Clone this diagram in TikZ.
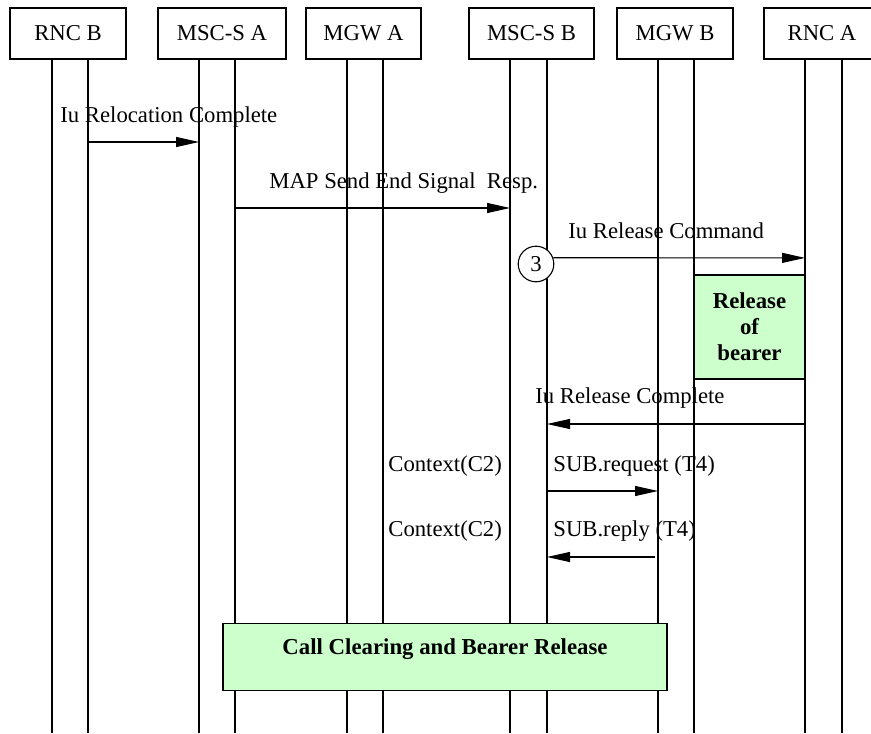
\documentclass[tikz,border=0pt]{standalone}
\usepackage{fontspec}
\setmainfont{Liberation Serif}
\usetikzlibrary{arrows.meta}
\definecolor{actgreen}{HTML}{CCFFCC}
\tikzset{
  entity/.style={draw, line width=0.6pt, minimum height=25.5pt, inner sep=0pt},
  life/.style={line width=0.55pt},
  msg/.style={line width=0.55pt, -{Triangle[length=11.5pt,width=5pt]}},
  lbl/.style={anchor=base west, inner sep=0pt},
  action/.style={draw, line width=0.6pt, fill=actgreen, inner sep=0pt, font=\fontsize{11.4}{13}\selectfont\bfseries},
}

\begin{document}
\begin{tikzpicture}[x=0.5pt, y=-0.5pt, font=\fontsize{11.35}{13}\selectfont]
\useasboundingbox (0,0) rectangle (871,733);
\clip (0,0) rectangle (871,733);
\node[entity, minimum width=58pt] (rncb) at (68,33.5) {RNC B};
\node[entity, minimum width=64pt] (msca) at (222,33.5) {MSC-S A};
\node[entity, minimum width=57.5pt] (mgwa) at (363.5,33.5) {MGW A};
\node[entity, minimum width=62.5pt] (mscb) at (531.5,33.5) {MSC-S B};
\node[entity, minimum width=58pt] (mgwb) at (675,33.5) {MGW B};
\node[entity, minimum width=58pt] (rnca) at (822,33.5) {RNC A};
\foreach \n/\a/\b in {rncb/52/88, msca/199/235, mgwa/347/383, mscb/510/547, mgwb/658/694, rnca/805/842} {
  \draw[life] (\a,0 |- \n.south) -- (\a,733);
  \draw[life] (\b,0 |- \n.south) -- (\b,733);
}
% relocation
\coordinate (relA) at (88,142);
\coordinate (relB) at (199,142);
\draw[msg] (relA) -- (relB);
\node[lbl] (relL) at (60,122) {Iu Relocation Complete};
\coordinate (mapA) at (235,208);
\coordinate (mapB) at (510,208);
\draw[msg] (mapA) -- (mapB);
\node[lbl] (mapL) at (269,188) {MAP Send End Signal\ \ Resp.};
% release command
\node[draw, circle, fill=white, minimum size=17.8pt, inner sep=0pt, line width=0.55pt] (c3) at (536,264) {3};
\coordinate (cmdB) at (805,257.9);
\draw[msg] (c3.20) -- (cmdB);
\node[lbl] (cmdL) at (568,238) {Iu Release Command};
\node[action, minimum width=55.5pt, minimum height=52pt, align=center] (bearer) at (749.5,327) {Release\\of\\bearer};
\coordinate (cplA) at (805,424);
\coordinate (cplB) at (547,424);
\draw[msg] (cplA) -- (cplB);
\node[lbl] (cplL) at (535,403) {Iu Release Complete};
% subtract
\coordinate (reqA) at (547,491);
\coordinate (reqB) at (658,491);
\draw[msg] (reqA) -- (reqB);
\node[lbl] (reqL) at (553,471) {SUB.request (T4)};
\node[lbl] (reqC) at (388,471) {Context(C2)};
\coordinate (repA) at (655,557);
\coordinate (repB) at (547,557);
\draw[msg] (repA) -- (repB);
\node[lbl] (repL) at (553,536) {SUB.reply (T4)};
\node[lbl] (repC) at (388,536) {Context(C2)};
\node[action, anchor=north, minimum width=222pt, text height=15.5pt, text depth=18pt] (clear) at (445,623) {Call Clearing and Bearer Release};
\end{tikzpicture}
\end{document}
